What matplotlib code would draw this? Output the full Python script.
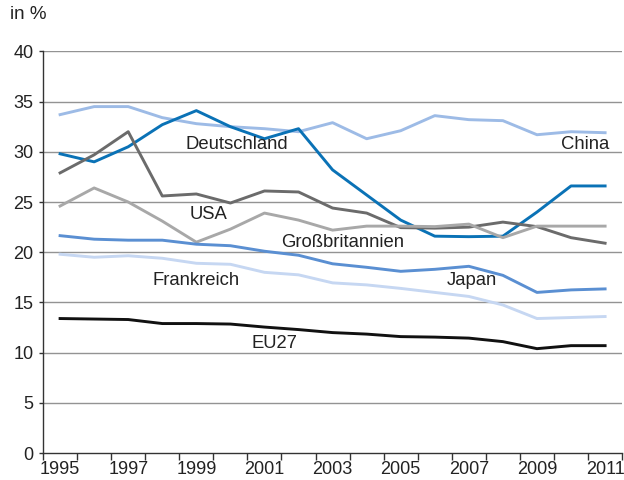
import numpy as np
import matplotlib.pyplot as plt
from matplotlib.ticker import MultipleLocator, FixedLocator

years = list(range(1995, 2012))

china = [33.7, 34.5, 34.5, 33.4, 32.8, 32.5, 32.3, 32.0, 32.9, 31.3, 32.1,
         33.6, 33.2, 33.1, 31.7, 32.0, 31.9]
deutschland = [29.8, 29.0, 30.5, 32.7, 34.1, 32.5, 31.3, 32.3, 28.2, 25.7, 23.2,
               21.6, 21.55, 21.6, 24.0, 26.6, 26.6]
usa = [27.9, 29.7, 32.0, 25.6, 25.8, 24.9, 26.1, 26.0, 24.4, 23.9, 22.45,
       22.4, 22.5, 23.0, 22.55, 21.45, 20.9]
gb = [24.6, 26.4, 25.0, 23.1, 21.0, 22.3, 23.9, 23.2, 22.2, 22.6, 22.6,
      22.55, 22.8, 21.45, 22.6, 22.6, 22.6]
japan = [21.65, 21.3, 21.2, 21.2, 20.8, 20.65, 20.1, 19.7, 18.85, 18.5, 18.1,
         18.3, 18.6, 17.7, 16.0, 16.25, 16.35]
frankreich = [19.8, 19.5, 19.65, 19.4, 18.9, 18.8, 18.0, 17.75, 16.95, 16.75, 16.4,
              16.0, 15.6, 14.75, 13.4, 13.5, 13.6]
eu27 = [13.4, 13.35, 13.3, 12.9, 12.9, 12.85, 12.55, 12.3, 12.0, 11.85, 11.6,
        11.55, 11.45, 11.1, 10.4, 10.7, 10.7]

series = [
    (china, '#9dbbe6', 'China', 2010.4, 30.7),
    (deutschland, '#0a72b6', 'Deutschland', 2000.2, 30.7),
    (usa, '#6b6b6b', 'USA', 1999.35, 23.8),
    (gb, '#a8a8a8', 'Großbritannien', 2003.3, 21.0),
    (japan, '#5a8fd2', 'Japan', 2007.1, 17.15),
    (frankreich, '#c6d7f2', 'Frankreich', 1999.0, 17.15),
    (eu27, '#111111', 'EU27', 2001.3, 10.9),
]

plt.rcParams['font.family'] = ['Liberation Sans', 'DejaVu Sans']

fig = plt.figure(figsize=(6.24, 4.8), dpi=100)
ax = fig.add_axes([0.069, 0.056, 0.928, 0.837])

# horizontal grid
for v in range(5, 45, 5):
    ax.axhline(v, color='#939393', lw=1.0, zorder=1)

for vals, col, name, tx, ty in series:
    ax.plot(years, vals, color=col, lw=2.1, zorder=3)
    ax.text(tx, ty, name, ha='center', va='center', fontsize=13.3,
            color='#222222', zorder=4)

ax.set_xlim(1994.5, 2011.5)
ax.set_ylim(0, 40)

ax.xaxis.set_major_locator(FixedLocator(range(1995, 2012, 2)))
ax.xaxis.set_minor_locator(FixedLocator(np.arange(1994.5, 2012, 1)))
ax.yaxis.set_major_locator(MultipleLocator(5))
ax.tick_params(axis='x', which='major', length=0, pad=6, labelsize=13,
               labelcolor='#222222')
ax.tick_params(axis='x', which='minor', length=5, width=1, color='#333333',
               direction='out')
ax.tick_params(axis='y', length=3, width=1, color='#333333', pad=4,
               labelsize=13, labelcolor='#222222')

for s in ['top', 'right']:
    ax.spines[s].set_visible(False)
for s in ['left', 'bottom']:
    ax.spines[s].set_color('#333333')
    ax.spines[s].set_linewidth(1.0)

fig.text(0.016, 0.969, 'in %', fontsize=13.5, color='#222222',
         ha='left', va='center')

fig.savefig('out.png', dpi=100)
